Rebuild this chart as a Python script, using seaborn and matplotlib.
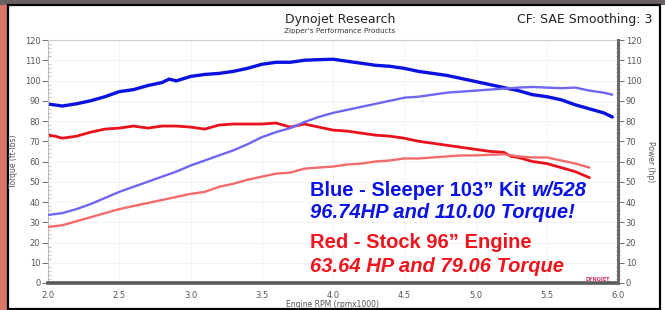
import matplotlib
matplotlib.use("Agg")
import matplotlib.pyplot as plt
import seaborn as sns
import pandas as pd
from matplotlib.patches import Rectangle
from matplotlib.ticker import MultipleLocator

# ---------------- data ----------------
blue_torque_rpm = [2.0, 2.1, 2.2, 2.3, 2.4, 2.5, 2.6, 2.7, 2.8, 2.85, 2.9, 3.0, 3.1, 3.2, 3.3, 3.4,
                   3.5, 3.6, 3.7, 3.8, 3.9, 4.0, 4.1, 4.2, 4.3, 4.4, 4.5, 4.6, 4.7, 4.8, 4.9, 5.0,
                   5.1, 5.2, 5.3, 5.4, 5.5, 5.6, 5.7, 5.8, 5.9, 5.96]
blue_torque = [88.4, 87.4, 88.5, 90, 92, 94.5, 95.5, 97.5, 99, 100.7, 99.8, 102, 103, 103.5, 104.5, 106,
               108, 109, 109, 110, 110.3, 110.5, 109.5, 108.5, 107.5, 107, 106, 104.5, 103.5, 102.5, 101, 99.5,
               98, 96.5, 95, 93, 92, 90.5, 88, 86, 84, 82]

blue_power_rpm = [2.0, 2.1, 2.2, 2.3, 2.4, 2.5, 2.6, 2.7, 2.8, 2.9, 3.0, 3.1, 3.2, 3.3, 3.4, 3.5,
                  3.6, 3.7, 3.8, 3.9, 4.0, 4.1, 4.2, 4.3, 4.4, 4.5, 4.6, 4.7, 4.8, 4.9, 5.0, 5.1,
                  5.2, 5.3, 5.4, 5.5, 5.6, 5.7, 5.8, 5.9, 5.96]
blue_power = [33.6, 34.5, 36.5, 39, 42, 45, 47.5, 50, 52.5, 55, 58, 60.5, 63, 65.5, 68.5, 72,
              74.5, 76.5, 79.5, 82, 84, 85.5, 87, 88.5, 90, 91.5, 92, 93, 94, 94.5, 95, 95.5,
              96, 96.5, 96.8, 96.5, 96.2, 96.5, 95, 94, 93]

red_torque_rpm = [2.0, 2.05, 2.1, 2.2, 2.3, 2.4, 2.5, 2.6, 2.7, 2.8, 2.9, 3.0, 3.1, 3.2, 3.3, 3.4,
                  3.5, 3.6, 3.65, 3.7, 3.8, 3.9, 4.0, 4.1, 4.2, 4.3, 4.4, 4.5, 4.6, 4.7, 4.8, 4.9,
                  5.0, 5.1, 5.2, 5.25, 5.3, 5.4, 5.5, 5.6, 5.7, 5.8]
red_torque = [73, 72.5, 71.5, 72.5, 74.5, 76, 76.5, 77.5, 76.5, 77.5, 77.5, 77, 76, 78, 78.5, 78.5,
              78.5, 79, 78, 77, 78.5, 77, 75.5, 75, 74, 73, 72.5, 71.5, 70, 69, 68, 67,
              66, 65, 64.5, 62.5, 62, 60, 59, 57, 55, 52]

red_power_rpm = [2.0, 2.1, 2.2, 2.3, 2.4, 2.5, 2.6, 2.7, 2.8, 2.9, 3.0, 3.1, 3.2, 3.3, 3.4, 3.5,
                 3.6, 3.7, 3.8, 3.9, 4.0, 4.1, 4.2, 4.3, 4.4, 4.5, 4.6, 4.7, 4.8, 4.9, 5.0, 5.1,
                 5.2, 5.3, 5.4, 5.5, 5.6, 5.7, 5.8]
red_power = [27.7, 28.5, 30.5, 32.5, 34.5, 36.5, 38, 39.5, 41, 42.5, 44, 45, 47.5, 49, 51, 52.5,
             54, 54.5, 56.5, 57, 57.5, 58.5, 59, 60, 60.5, 61.5, 61.5, 62, 62.5, 63, 63, 63.3,
             63.6, 62.5, 62, 62, 60.5, 59, 57]

x_ticks = [2.0, 2.5, 3.0, 3.5, 4.0, 4.5, 5.0, 5.5, 6.0]
y_ticks = [0, 10, 20, 30, 40, 50, 60, 70, 80, 90, 100, 110, 120]

title = "Dynojet Research"
subtitle = "Zipper's Performance Products"
cf_text = "CF: SAE Smoothing: 3"

# ---------------- figure ----------------
sns.set_style("white")
plt.rcParams['font.family'] = ['DejaVu Sans']

W, H = 665, 310
fig = plt.figure(figsize=(W / 100, H / 100), dpi=100)
fig.patch.set_facecolor("white")

def fx(px):
    return px / W

def fy(py):
    return 1 - py / H

# outside background (photo strip) and black frame
fig.patches.append(Rectangle((0, 0), fx(8), 1, transform=fig.transFigure,
                             facecolor="#d9786a", edgecolor="none", zorder=-3))
fig.patches.append(Rectangle((0, fy(5)), 1, 5 / H, transform=fig.transFigure,
                             facecolor="#6a6262", edgecolor="none", zorder=-3))
fig.patches.append(Rectangle((fx(8), fy(309)), fx(652), 304 / H, transform=fig.transFigure,
                             facecolor="white", edgecolor="black", lw=1.6, zorder=-2))

ax = fig.add_axes([fx(48), fy(283), fx(570), (283 - 40) / H])
ax.set_facecolor("none")
ax2 = ax.twinx()

df_bt = pd.DataFrame({"rpm": blue_torque_rpm, "v": blue_torque})
df_bp = pd.DataFrame({"rpm": blue_power_rpm, "v": blue_power})
df_rt = pd.DataFrame({"rpm": red_torque_rpm, "v": red_torque})
df_rp = pd.DataFrame({"rpm": red_power_rpm, "v": red_power})

sns.lineplot(data=df_rp, x="rpm", y="v", ax=ax2, color="#f36b6b", lw=1.7, sort=False)
sns.lineplot(data=df_bp, x="rpm", y="v", ax=ax2, color="#7066f2", lw=1.7, sort=False)
sns.lineplot(data=df_rt, x="rpm", y="v", ax=ax, color="#e8121c", lw=2.0, sort=False)
sns.lineplot(data=df_bt, x="rpm", y="v", ax=ax, color="#0a12e0", lw=2.4, sort=False)

for a in (ax, ax2):
    a.set_xlim(2.0, 6.0)
    a.set_ylim(0, 120)
    a.set_yticks(y_ticks)
    a.yaxis.set_minor_locator(MultipleLocator(2))
    a.set_xlabel("")
    a.set_ylabel("")

ax.set_xticks(x_ticks)
ax.set_xticklabels([f"{t:.1f}" for t in x_ticks])
ax.xaxis.set_minor_locator(MultipleLocator(0.1))

tick_col = "#555555"
ax.tick_params(axis="both", which="major", labelsize=6, colors=tick_col, length=4, width=0.6,
               direction="out", pad=1.5)
ax.tick_params(axis="y", which="minor", length=2.5, width=0.5, colors="#aaaaaa", direction="in")
ax.tick_params(axis="x", which="minor", length=2.5, width=0.5, colors="#999999", direction="in")
ax2.tick_params(axis="y", which="major", labelsize=6, colors=tick_col, length=4, width=0.6,
                direction="out", pad=1.5)
ax2.tick_params(axis="y", which="minor", length=3, width=0.5, colors="#888888", direction="inout")

ax.grid(True, which="major", color="#f1f1f1", lw=0.6)
ax.set_axisbelow(True)

for s in ax.spines.values():
    s.set_visible(False)
for s in ax2.spines.values():
    s.set_visible(False)
ax.spines["left"].set_visible(True)
ax.spines["left"].set_color("#bbbbbb")
ax.spines["left"].set_linewidth(0.8)
ax.spines["top"].set_visible(True)
ax.spines["top"].set_color("#cccccc")
ax.spines["top"].set_linewidth(0.8)
ax.spines["bottom"].set_visible(True)
ax.spines["bottom"].set_color("#5a5a5a")
ax.spines["bottom"].set_linewidth(2.6)
ax2.spines["right"].set_visible(True)
ax2.spines["right"].set_color("#6a6a6a")
ax2.spines["right"].set_linewidth(2.2)

ax.set_ylabel("Torque (ft-lbs)", fontsize=5.5, color=tick_col, labelpad=5)
ax2.set_ylabel("Power (hp)", fontsize=5.5, color=tick_col, rotation=-90, labelpad=10)
ax.set_xlabel("Engine RPM (rpmx1000)", fontsize=5.5, color=tick_col, labelpad=0.5)

# titles
fig.text(fx(340), fy(19), title, ha="center", va="center", fontsize=9, color="#222222")
fig.text(fx(340), fy(31), subtitle, ha="center", va="center", fontsize=5.2, color="#333333")
fig.text(fx(652), fy(19), cf_text, ha="right", va="center", fontsize=9, color="#222222")

# annotations
ann_font = ["Liberation Sans", "DejaVu Sans"]
fs = 14.5
fig.text(fx(310), fy(190), "Blue - Sleeper 103\u201d Kit ", ha="left", va="center", fontsize=fs,
         fontweight="bold", color="#0a12e6", family=ann_font)
t = fig.text(fx(310), fy(190), "Blue - Sleeper 103\u201d Kit ", ha="left", va="center", fontsize=fs,
             fontweight="bold", color="none", family=ann_font)
fig.canvas.draw()
bb = t.get_window_extent()
fig.text(bb.x1 / W, fy(190), "w/528", ha="left", va="center", fontsize=fs,
         fontweight="bold", fontstyle="italic", color="#0a12e6", family=ann_font)
fig.text(fx(310), fy(213), "96.74HP and 110.00 Torque!", ha="left", va="center", fontsize=fs,
         fontweight="bold", fontstyle="italic", color="#0a12e6", family=ann_font)
fig.text(fx(310), fy(243), "Red - Stock 96\u201d Engine", ha="left", va="center", fontsize=fs,
         fontweight="bold", color="#f0141c", family=ann_font)
fig.text(fx(310), fy(266), "63.64 HP and 79.06 Torque", ha="left", va="center", fontsize=fs,
         fontweight="bold", fontstyle="italic", color="#f0141c", family=ann_font)

# small dynojet logo at bottom right of plot
fig.text(fx(598), fy(279), "DYNOJET", ha="center", va="center", fontsize=3.6,
         fontweight="bold", color="#d0306a")

fig.savefig("out.png", dpi=100)
